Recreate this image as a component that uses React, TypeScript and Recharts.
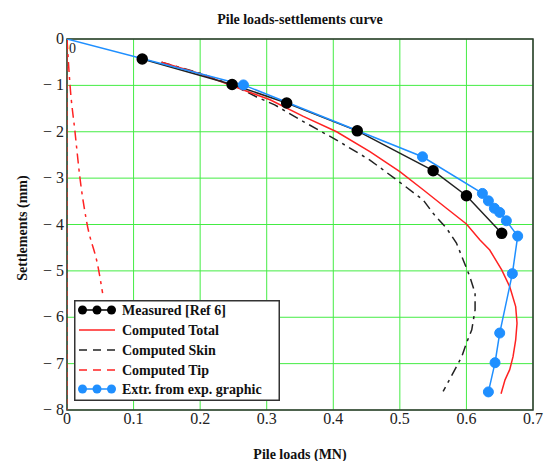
import React from 'react';
import { LineChart, Line, XAxis, YAxis, CartesianGrid, ReferenceArea, Legend } from 'recharts';

const xTicks = [0, 0.1, 0.2, 0.3, 0.4, 0.5, 0.6, 0.7];
const yTicks = [-8, -7, -6, -5, -4, -3, -2, -1, 0];

const measuredLoads = [0.113, 0.248, 0.33, 0.436, 0.55, 0.6, 0.653];
const measuredSettl = [-0.43, -0.98, -1.38, -1.98, -2.84, -3.38, -4.19];

const totalLoads = [0.142, 0.2, 0.25, 0.305, 0.355, 0.405, 0.455, 0.5, 0.535, 0.57, 0.6, 0.62, 0.635, 0.653, 0.665, 0.674, 0.676, 0.674, 0.67, 0.665, 0.658, 0.652];
const totalSettl = [-0.5, -0.75, -1.02, -1.31, -1.67, -2.0, -2.43, -2.86, -3.25, -3.65, -3.99, -4.33, -4.55, -4.98, -5.34, -5.77, -6.13, -6.49, -6.85, -7.13, -7.35, -7.65];

const skinLoads = [0.142, 0.2, 0.25, 0.285, 0.312, 0.355, 0.405, 0.455, 0.5, 0.535, 0.55, 0.57, 0.585, 0.595, 0.605, 0.613, 0.613, 0.608, 0.6, 0.593, 0.58, 0.565];
const skinSettl = [-0.5, -0.74, -1.0, -1.25, -1.42, -1.78, -2.18, -2.61, -3.09, -3.47, -3.76, -4.08, -4.4, -4.76, -5.12, -5.48, -5.84, -6.27, -6.56, -6.85, -7.2, -7.6];

const tipLoads = [0, 0.0045, 0.012, 0.0195, 0.0295, 0.047, 0.0535];
const tipSettl = [0, -0.99, -2.0, -3.0, -3.94, -4.94, -5.48];

const extrLoads = [0, 0.265, 0.534, 0.624, 0.633, 0.642, 0.65, 0.66, 0.677, 0.669, 0.65, 0.643, 0.633];
const extrSettl = [0, -0.99, -2.54, -3.33, -3.49, -3.65, -3.74, -3.92, -4.25, -5.06, -6.34, -6.98, -7.61];

const axisEdgeLoads = [0, 0];
const axisEdgeSettl = [0, -8];

const legendLabels = ['Measured [Ref 6]', 'Computed Total', 'Computed Skin', 'Computed Tip', 'Extr. from exp. graphic'];

const pts = (xs: number[], ys: number[]) => xs.map((x, i) => ({ x, y: ys[i] }));

const measured = pts(measuredLoads, measuredSettl);
const total = pts(totalLoads, totalSettl);
const skin = pts(skinLoads, skinSettl);
const tip = pts(tipLoads, tipSettl);
const extr = pts(extrLoads, extrSettl);
const axisEdge = pts(axisEdgeLoads, axisEdgeSettl);

const FONT = '"Liberation Serif", "Times New Roman", serif';
const BLUE = '#1f8fff';
const RED = '#ff2222';
const GREEN = '#44ec44';
const DASHDOT = '10 5 3 5';

const blueDot = (props: any) => {
  const { cx, cy, index } = props;
  if (index === 0) return <g key={`bd-${index}`} />;
  return <circle key={`bd-${index}`} cx={cx} cy={cy} r={5} fill={BLUE} stroke={BLUE} />;
};

const fmtX = (v: number) => (v === 0 ? '0' : v.toFixed(1));
const fmtY = (v: number) => (v === 0 ? '0' : `\u2212 ${Math.abs(v)}`);

const XTick = (props: any) => {
  const { x, y, payload } = props;
  return (
    <text x={x} y={y + 12} textAnchor="middle" fontFamily={FONT} fontSize={16} fill="#222">
      {fmtX(payload.value)}
    </text>
  );
};

const YTick = (props: any) => {
  const { x, y, payload } = props;
  return (
    <text x={x} y={y + 5} textAnchor="end" fontFamily={FONT} fontSize={16} fill="#222">
      {fmtY(payload.value)}
    </text>
  );
};

const LegendBox = () => {
  const rowY = [10, 30, 50, 70, 89];
  const textX = 48;
  return (
    <svg width={206} height={101} style={{ display: 'block' }}>
      <rect x={0.75} y={0.75} width={204.5} height={99.5} fill="#ffffff" stroke="#333" strokeWidth={1.5} />
      <line x1={6} x2={40} y1={rowY[0]} y2={rowY[0]} stroke="#000" strokeWidth={1.5} />
      {[8.5, 23, 37.5].map((cx) => (
        <circle key={`m${cx}`} cx={cx} cy={rowY[0]} r={4.5} fill="#000" />
      ))}
      <line x1={5} x2={41} y1={rowY[1]} y2={rowY[1]} stroke={RED} strokeWidth={1.5} />
      <line x1={5} x2={41} y1={rowY[2]} y2={rowY[2]} stroke="#222" strokeWidth={1.5} strokeDasharray="8 6" />
      <line x1={5} x2={41} y1={rowY[3]} y2={rowY[3]} stroke={RED} strokeWidth={1.5} strokeDasharray="8 6" />
      <line x1={6} x2={40} y1={rowY[4]} y2={rowY[4]} stroke={BLUE} strokeWidth={1.5} />
      {[8.5, 23, 37.5].map((cx) => (
        <circle key={`e${cx}`} cx={cx} cy={rowY[4]} r={4.5} fill={BLUE} />
      ))}
      {legendLabels.map((t, i) => (
        <text key={t} x={textX} y={rowY[i] + 5} fontFamily={FONT} fontWeight="bold" fontSize={14} fill="#111">
          {t}
        </text>
      ))}
    </svg>
  );
};

export default function App() {
  return (
    <div style={{ position: 'absolute', left: 0, top: 0, width: 544, height: 461, background: '#fff', fontFamily: FONT }}>
      <LineChart width={544} height={461} margin={{ top: 39, right: 11, bottom: 0, left: 0 }} style={{ fontFamily: FONT }}>
        <CartesianGrid stroke={GREEN} strokeWidth={1} />
        <XAxis
          type="number"
          dataKey="x"
          domain={[0, 0.7]}
          ticks={xTicks}
          allowDataOverflow
          axisLine={false}
          tickLine={false}
          tickSize={0}
          tickMargin={2}
          height={51}
          tick={XTick}
        />
        <YAxis
          type="number"
          dataKey="y"
          domain={[-8, 0]}
          ticks={yTicks}
          allowDataOverflow
          axisLine={false}
          tickLine={false}
          tickSize={0}
          tickMargin={3}
          width={67}
          tick={YTick}
        />
        <ReferenceArea x1={0} x2={0.7} y1={-8} y2={0} fill="none" fillOpacity={0} stroke="#333" strokeWidth={1.5} ifOverflow="visible" />
        <Line data={axisEdge} dataKey="y" type="linear" stroke={RED} strokeWidth={1} strokeDasharray="5 4" dot={false} isAnimationActive={false} legendType="none" />
        <Line data={tip} dataKey="y" name="Computed Tip" type="monotone" stroke={RED} strokeWidth={1.5} strokeDasharray={DASHDOT} dot={false} isAnimationActive={false} />
        <Line data={skin} dataKey="y" name="Computed Skin" type="linear" stroke="#222" strokeWidth={1.5} strokeDasharray={DASHDOT} dot={false} isAnimationActive={false} />
        <Line data={total} dataKey="y" name="Computed Total" type="linear" stroke={RED} strokeWidth={1.5} dot={false} isAnimationActive={false} />
        <Line data={measured} dataKey="y" name="Measured [Ref 6]" type="linear" stroke="#222" strokeWidth={1.5} dot={{ r: 5, fill: '#000', stroke: '#000' }} isAnimationActive={false} />
        <Line data={extr} dataKey="y" name="Extr. from exp. graphic" type="linear" stroke={BLUE} strokeWidth={1.5} dot={blueDot} isAnimationActive={false} />
        <Legend
          layout="horizontal"
          verticalAlign="middle"
          align="center"
          content={() => <LegendBox />}
          wrapperStyle={{ position: 'absolute', left: 74, top: 300, width: 206, height: 101 }}
        />
      </LineChart>
      <svg width={544} height={461} style={{ position: 'absolute', left: 0, top: 0, pointerEvents: 'none' }}>
        <text x={300} y={24} textAnchor="middle" fontFamily={FONT} fontWeight="bold" fontSize={14} fill="#111">
          Pile loads-settlements curve
        </text>
        <text x={300} y={459} textAnchor="middle" fontFamily={FONT} fontWeight="bold" fontSize={14} fill="#111">
          Pile loads (MN)
        </text>
        <text x={27} y={228} textAnchor="middle" fontFamily={FONT} fontWeight="bold" fontSize={14} fill="#111" transform="rotate(-90 27 228)">
          Settlements (mm)
        </text>
        <text x={69} y={53} fontFamily={FONT} fontSize={14} fill="#222">0</text>
      </svg>
    </div>
  );
}
